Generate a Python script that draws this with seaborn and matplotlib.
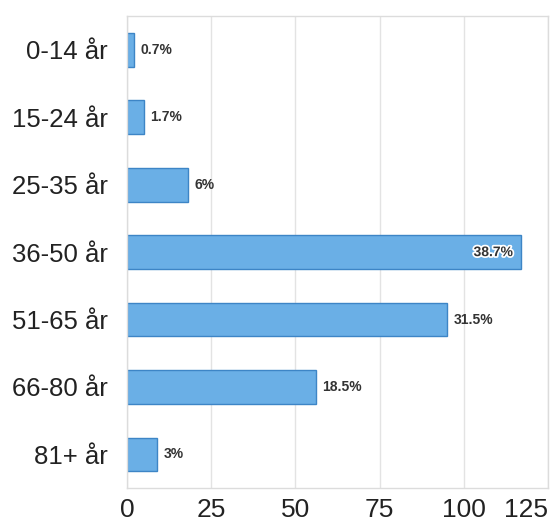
import matplotlib
matplotlib.use("Agg")
import matplotlib.pyplot as plt
import matplotlib.patheffects as pe
import pandas as pd
import seaborn as sns

# Data
ages = ["0-14 år", "15-24 år", "25-35 år", "36-50 år", "51-65 år", "66-80 år", "81+ år"]
counts = [2, 5, 18, 117, 95, 56, 9]
pct_labels = ["0.7%", "1.7%", "6%", "38.7%", "31.5%", "18.5%", "3%"]
x_ticks = [0, 25, 50, 75, 100, 125]

df = pd.DataFrame({"age": ages, "count": counts})

sns.set_style("white")
plt.rcParams["font.family"] = ["Liberation Sans", "DejaVu Sans"]

fig = plt.figure(figsize=(5.53, 5.22), dpi=100)
ax = fig.add_axes([0.2297, 0.065, 0.761, 0.904])

sns.barplot(data=df, y="age", x="count", orient="h", width=0.5,
            color="#6aafe6", edgecolor="#3d85c6", linewidth=1, saturation=1, ax=ax)

ax.set_xlim(0, 125)
ax.set_xticks(x_ticks)
ax.grid(axis="x", color="#e3e3e3", linewidth=1)
ax.set_axisbelow(True)
for s in ax.spines.values():
    s.set_color("#dcdcdc")
    s.set_linewidth(1)
ax.set_xlabel("")
ax.set_ylabel("")
ax.tick_params(axis="y", length=0, labelsize=18.5, colors="#222222", pad=14)
ax.tick_params(axis="x", length=0, labelsize=19, colors="#222222", pad=7)
# last x label kept inside the figure
ax.get_xticklabels()[-1].set_horizontalalignment("right")
ax.get_xticklabels()[-1].set_x(126)

# value labels
for i, (c, lab) in enumerate(zip(counts, pct_labels)):
    if c > 110:
        t = ax.text(c - 2.3, i, lab, ha="right", va="center", fontsize=10,
                    fontweight="bold", color="#333333")
        t.set_path_effects([pe.withStroke(linewidth=2.5, foreground="white")])
    else:
        ax.text(c + 2, i, lab, ha="left", va="center", fontsize=10,
                fontweight="bold", color="#333333")

plt.savefig("out.png", dpi=100)
